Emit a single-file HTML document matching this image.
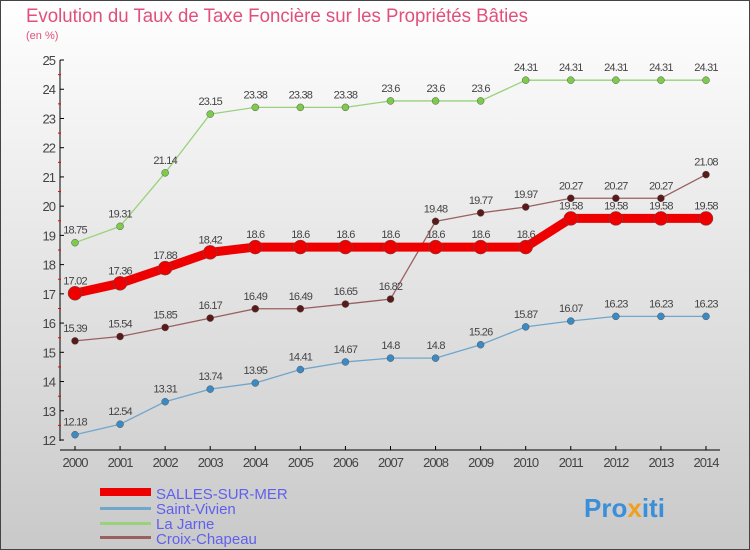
<!DOCTYPE html>
<html><head><meta charset="utf-8"><style>
body{margin:0;width:750px;height:550px;overflow:hidden;font-family:"Liberation Sans",sans-serif}
svg{display:block}
</style></head><body>
<svg id="c" width="750" height="550" xmlns="http://www.w3.org/2000/svg">
<defs><linearGradient id="bg" x1="0" y1="0" x2="0" y2="1"><stop offset="0" stop-color="#ffffff"/><stop offset="1" stop-color="#c9c9c9"/></linearGradient></defs>
<rect x="0.5" y="0.5" width="749" height="549" fill="url(#bg)" stroke="#444"/>
<text x="26" y="22" font-size="19" fill="#e0507a" textLength="502" lengthAdjust="spacingAndGlyphs">Evolution du Taux de Taxe Foncière sur les Propriétés Bâties</text>
<text x="26" y="39" font-size="11" fill="#e0507a">(en %)</text>
<g id="axes"></g><g id="series"></g>
<g>
<rect x="100" y="488" width="51" height="8" fill="#e00"/>
<text x="156" y="499" font-size="15" fill="#6060ee">SALLES-SUR-MER</text>
<rect x="100" y="507" width="51" height="3" fill="#6fa6cc"/>
<text x="156" y="514" font-size="15" fill="#6060ee">Saint-Vivien</text>
<rect x="100" y="522" width="51" height="3" fill="#99d27a"/>
<text x="156" y="529" font-size="15" fill="#6060ee">La Jarne</text>
<rect x="100" y="536" width="51" height="3" fill="#9a6060"/>
<text x="156" y="544" font-size="15" fill="#6060ee">Croix-Chapeau</text>
</g>
<text x="584" y="517" font-size="26" font-weight="bold" fill="#3a8fd8">Pro<tspan fill="#f0a020">x</tspan>iti</text>
</svg>
<script>
const years=[2000,2001,2002,2003,2004,2005,2006,2007,2008,2009,2010,2011,2012,2013,2014];
const yTicks=[12,13,14,15,16,17,18,19,20,21,22,23,24,25];
const salles=[17.02,17.36,17.88,18.42,18.6,18.6,18.6,18.6,18.6,18.6,18.6,19.58,19.58,19.58,19.58];
const saintVivien=[12.18,12.54,13.31,13.74,13.95,14.41,14.67,14.8,14.8,15.26,15.87,16.07,16.23,16.23,16.23];
const laJarne=[18.75,19.31,21.14,23.15,23.38,23.38,23.38,23.6,23.6,23.6,24.31,24.31,24.31,24.31,24.31];
const croix=[15.39,15.54,15.85,16.17,16.49,16.49,16.65,16.82,19.48,19.77,19.97,20.27,20.27,20.27,21.08];
const NS="http://www.w3.org/2000/svg";
const X=i=>75+i*45.07, Y=v=>440-(v-12)*29.23;
function mk(t,a,p){const e=document.createElementNS(NS,t);for(const k in a)e.setAttribute(k,a[k]);p.appendChild(e);return e;}
const ax=document.getElementById('axes');
let l=mk('line',{x1:60,y1:60,x2:60,y2:441,stroke:'#000'},ax);


l=mk('line',{x1:60,y1:450,x2:720,y2:450,stroke:'#000'},ax);


yTicks.forEach(v=>{const y=Y(v);
 mk('line',{x1:60,y1:y,x2:64,y2:y,stroke:'#000'},ax);
 if(v<25)mk('line',{x1:58,y1:y-14.6,x2:61,y2:y-14.6,stroke:'#e00'},ax);
 const t=mk('text',{x:55,y:y+5,'font-size':13,'text-anchor':'end',fill:'#444','letter-spacing':'-1'},ax);t.textContent=v;
 
 });
years.forEach((yr,i)=>{const x=X(i);
 mk('line',{x1:x,y1:446,x2:x,y2:450,stroke:'#000'},ax);
 const t=mk('text',{x:x,y:467,'font-size':13,'text-anchor':'middle',fill:'#444','letter-spacing':'-1'},ax);t.textContent=yr;
 
 });
const sg=document.getElementById('series');
function series(vals,color,lw,r,dot,name){
 const g=mk('g',{},sg);
 
 
 mk('polyline',{points:vals.map((v,i)=>X(i)+','+Y(v)).join(' '),fill:'none',stroke:color,'stroke-width':lw,'stroke-linejoin':'round'},g);
 vals.forEach((v,i)=>{const c=mk('circle',{cx:X(i),cy:Y(v),r:r,fill:dot,stroke:'#555','stroke-width':0.5},g);
  
  
  const t=mk('text',{x:X(i),y:Y(v)-9,'font-size':11,'text-anchor':'middle',fill:'#444','letter-spacing':'-0.8'},g);t.textContent=v;});
}
series(saintVivien,'#6fa6cc',1.3,3.5,'#3c8ac4','saint-vivien-series');
series(laJarne,'#99d27a',1.3,3.5,'#7ccc4a','la-jarne-series');
series(croix,'#9a6060',1.3,3.5,'#5a1a1a','croix-chapeau-series');
series(salles,'#ee0000',9,7,'#ee0000','salles-series');
</script>
</body></html>
